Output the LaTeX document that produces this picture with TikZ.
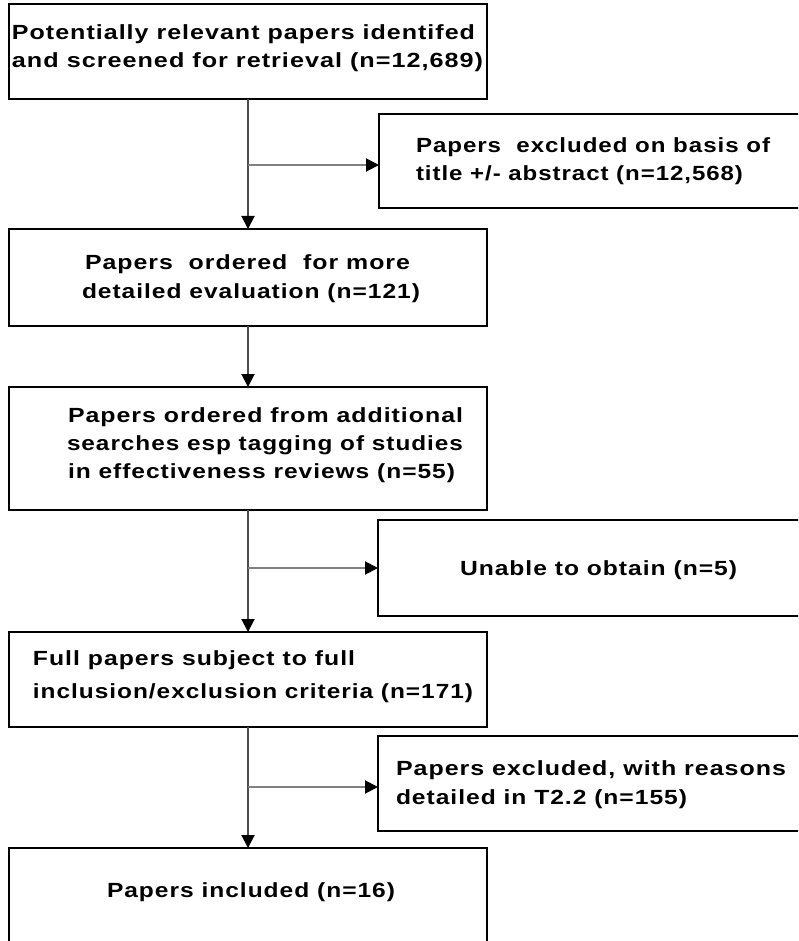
\documentclass[tikz,border=0pt]{standalone}
\usepackage{fontspec}
\setmainfont{Liberation Sans}[LetterSpace=4]
\usetikzlibrary{arrows.meta}
\newcommand{\fitw}[2]{\resizebox{#1pt}{\height}{#2}}
\begin{document}
\begin{tikzpicture}[x=1pt,y=-1pt,
  box/.style={draw=black, line width=2.6pt, rectangle, inner sep=0pt, outer sep=0pt},
  txt/.style={anchor=base west, inner sep=0pt, outer sep=0pt, font=\fontsize{20.5}{23}\selectfont\bfseries},
  vline/.style={draw=black!70, line width=2pt, -{Triangle[length=13pt,width=13pt,color=black]}},
  hline/.style={draw=black!50, line width=2pt, -{Triangle[length=13pt,width=13pt,color=black]}}]
\clip (0,0) rectangle (798,941);
\fill[white] (0,0) rectangle (798,941);
% boxes
\node[box, minimum width=478pt, minimum height=95pt] (b1) at (248,51.5) {};
\node[box, minimum width=431pt, minimum height=94pt] (b2) at (594.5,161) {};
\node[box, minimum width=478pt, minimum height=97pt] (b3) at (248,277.5) {};
\node[box, minimum width=478pt, minimum height=123pt] (b4) at (248,448.5) {};
\node[box, minimum width=432pt, minimum height=96pt] (b5) at (594,568) {};
\node[box, minimum width=478pt, minimum height=95pt] (b6) at (248,679.5) {};
\node[box, minimum width=432pt, minimum height=95pt] (b7) at (594,783.5) {};
\node[box, minimum width=478pt, minimum height=112pt] (b8) at (248,904) {};
% texts
\node[txt] (t1a) at (12,40) {\fitw{463}{Potentially relevant papers identifed}};
\node[txt] (t1b) at (12,68) {\fitw{471}{and screened for retrieval (n=12,689)}};
\node[txt] (t2a) at (416,153) {\fitw{354}{Papers\ \ excluded on basis of}};
\node[txt] (t2b) at (416,181) {\fitw{327}{title +/- abstract (n=12,568)}};
\node[txt] (t3a) at (85,269) {\fitw{325}{Papers\ \ ordered\ \ for more}};
\node[txt] (t3b) at (82,298) {\fitw{338}{detailed evaluation (n=121)}};
\node[txt] (t4a) at (68,422) {\fitw{395}{Papers ordered from additional}};
\node[txt] (t4b) at (67,450) {\fitw{396}{searches esp tagging of studies}};
\node[txt] (t4c) at (68,478) {\fitw{387}{in effectiveness reviews (n=55)}};
\node[txt] (t5) at (460,575) {\fitw{277}{Unable to obtain (n=5)}};
\node[txt] (t6a) at (33,665) {\fitw{322}{Full papers subject to full}};
\node[txt] (t6b) at (33,698) {\fitw{440}{inclusion/exclusion criteria (n=171)}};
\node[txt] (t7a) at (396,775) {\fitw{390}{Papers excluded, with reasons}};
\node[txt] (t7b) at (396,804) {\fitw{291}{detailed in T2.2 (n=155)}};
\node[txt] (t8) at (107,897) {\fitw{288}{Papers included (n=16)}};
% connectors
\coordinate (j1) at (248,165);
\coordinate (j2) at (248,568);
\coordinate (j3) at (248,787);
\draw[vline] (b1.south) -- (b3.north);
\draw[hline] (j1) -- (j1 -| b2.west);
\draw[vline] (b3.south) -- (b4.north);
\draw[vline] (b4.south) -- (b6.north);
\draw[hline] (j2) -- (j2 -| b5.west);
\draw[vline] (b6.south) -- (b8.north);
\draw[hline] (j3) -- (j3 -| b7.west);
\end{tikzpicture}
\end{document}
